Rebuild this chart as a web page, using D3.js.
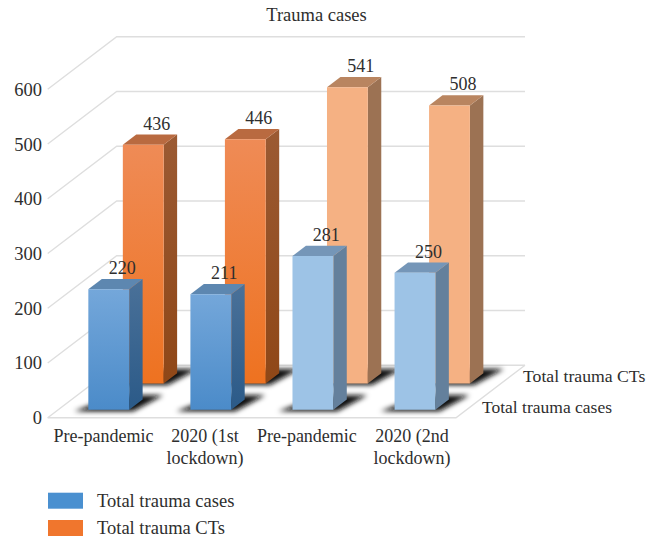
<!DOCTYPE html>
<html><head><meta charset="utf-8">
<script src="https://cdn.jsdelivr.net/npm/d3@7"></script>
<style>html,body{margin:0;padding:0;background:#fff}svg{display:block}text{font-family:"Liberation Serif",serif;fill:#2e2e2e}</style>
</head><body><div id="c"></div>
<script>
const categories = [["Pre-pandemic"],["2020 (1st","lockdown)"],["Pre-pandemic"],["2020 (2nd","lockdown)"]];
const seriesNames = ["Total trauma cases","Total trauma CTs"];
const cases = [220,211,281,250];
const cts = [436,446,541,508];
const yTicks = [0,100,200,300,400,500,600];
const title = "Trauma cases";

const W=646,H=539;
const svg=d3.select("#c").append("svg").attr("width",W).attr("height",H);
const defs=svg.append("defs");
const blur=defs.append("filter").attr("id","blur").attr("x","-30%").attr("y","-60%").attr("width","160%").attr("height","220%");
blur.append("feGaussianBlur").attr("stdDeviation",2.6);
function grad(id,a,b){const g=defs.append("linearGradient").attr("id",id).attr("x1",0).attr("y1",0).attr("x2",0).attr("y2",1);
 g.append("stop").attr("offset",0).attr("stop-color",a);g.append("stop").attr("offset",1).attr("stop-color",b);return `url(#${id})`;}
const style={
 blue:{front:grad("bf","#74a7da","#4b8bc9"),side:grad("bs","#4a7199","#2b5a88"),top:"#5d87b0"},
 orange:{front:grad("of","#ef8b56","#ee7220"),side:grad("os","#9b5a33","#8f4717"),top:"#b96a40"},
 lblue:{front:"#9dc3e6",side:"#64809c",top:"#7596b8"},
 lorange:{front:"#f5b183",side:"#9c7253",top:"#b98560"}
};
const legendColors=["#4a90d0","#f0762d"];

// oblique projection
const DX=69,DY=52.5,X0=47.7,X1=456,Y0=417.7;
const x=d3.scaleBand().domain(d3.range(categories.length)).range([X0,X1]);
const y=d3.scaleLinear().domain([0,600]).range([Y0,Y0-328.4]);
const depth=d3.scaleBand().domain(d3.range(seriesNames.length)).range([0,1]).paddingInner(0.61).paddingOuter(0.305);
const P=(px,v,d)=>[px+DX*d, y(v)-DY*d];
const pts=a=>a.map(p=>p.join(",")).join(" ");
const g=svg.append("g");
const gridC="#dedede";
yTicks.forEach(t=>{
 g.append("polyline").attr("points",pts([P(X0,t,0),P(X0,t,1),P(X1,t,1)])).attr("fill","none").attr("stroke",gridC).attr("stroke-width",1.4);
});
g.append("polyline").attr("points",pts([P(X0,0,0),P(X1,0,0),P(X1,0,1)])).attr("fill","none").attr("stroke",gridC).attr("stroke-width",1.4);

// bars, back row first
const barW=x.bandwidth()*0.4, off=x.bandwidth()*0.295;
const rows=[{s:1,vals:cts,st:i=>i<2?style.orange:style.lorange},{s:0,vals:cases,st:i=>i<2?style.blue:style.lblue}];
rows.forEach(r=>{
 const d0=depth(r.s),d1=d0+depth.bandwidth();
 r.vals.forEach((v,i)=>{
  const l=x(i)+off,rr=l+barW,s=r.st(i);
  // floor shadow
  g.append("polygon").attr("points",pts([P(l-12,0,d0-0.03),P(rr+6,0,d0-0.03),P(rr+15,0,d1+0.08),P(l+10,0,d1+0.08)]))
   .attr("fill","#111").attr("filter","url(#blur)");
  g.append("polygon").attr("points",pts([P(rr,0,d0),P(rr,0,d1),P(rr,v,d1),P(rr,v,d0)])).attr("fill",s.side);
  g.append("polygon").attr("points",pts([P(l,v,d0),P(rr,v,d0),P(rr,v,d1),P(l,v,d1)])).attr("fill",s.top);
  g.append("polygon").attr("points",pts([P(l,0,d0),P(rr,0,d0),P(rr,v,d0),P(l,v,d0)])).attr("fill",s.front);
 });
});
// value labels
rows.forEach(r=>{
 const d1=depth(r.s)+depth.bandwidth();
 r.vals.forEach((v,i)=>{
  const p=P(x(i)+off+barW/2,v,d1);
  g.append("text").attr("x",p[0]).attr("y",p[1]-5).attr("text-anchor","middle").attr("font-size",18).text(v);
 });
});
// y axis labels
yTicks.forEach(t=>{
 g.append("text").attr("x",42).attr("y",y(t)+6.5).attr("text-anchor","end").attr("font-size",18.5).text(t);
});
// category labels
const catOffset=[4.8,4.2,4,7];
categories.forEach((c,i)=>{
 const cx=x(i)+x.bandwidth()/2+catOffset[i];
 c.forEach((line,k)=>{
  g.append("text").attr("x",cx).attr("y",442+k*22).attr("text-anchor","middle").attr("font-size",18).text(line);
 });
});
// depth labels
g.append("text").attr("x",523).attr("y",382).attr("font-size",17.7).text(seriesNames[1]);
g.append("text").attr("x",482).attr("y",413).attr("font-size",17.5).text(seriesNames[0]);
// title
g.append("text").attr("x",316.5).attr("y",21).attr("text-anchor","middle").attr("font-size",18.5).text(title);
// legend
seriesNames.forEach((n,i)=>{
 const ly=492.7+i*27.3;
 g.append("rect").attr("x",48).attr("y",ly).attr("width",35).attr("height",16).attr("fill",legendColors[i]);
 g.append("text").attr("x",97).attr("y",ly+14).attr("font-size",18.5).text(n);
});
</script></body></html>
